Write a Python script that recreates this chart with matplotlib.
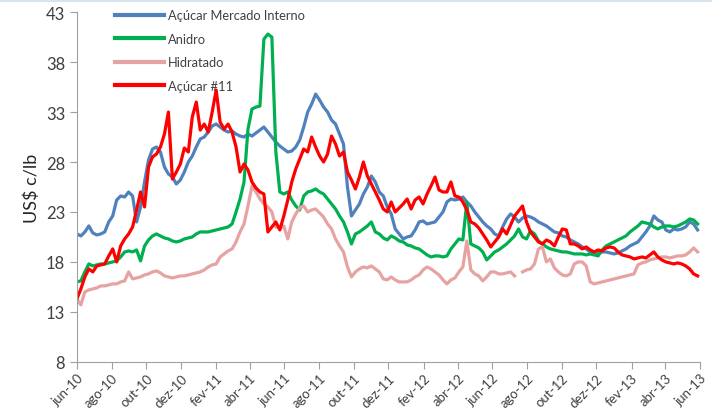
import pandas as pd
import numpy as np
import matplotlib
matplotlib.use('Agg')
import matplotlib.pyplot as plt

# weekly dates, jun-10 to jun-13
dates = pd.date_range('2010-06-01', periods=157, freq='7D')

acucar_mi = [
    20.8, 20.6, 21.0, 21.6, 20.9, 20.7, 20.8, 21.0, 22.0, 22.6,
    24.2, 24.6, 24.5, 25.0, 24.6, 22.0, 23.5, 26.0, 28.2, 29.3,
    29.5, 29.0, 27.5, 26.8, 26.5, 25.8, 26.2, 27.0, 28.0, 28.6,
    29.5, 30.3, 30.5, 31.0, 31.6, 31.8, 31.5, 31.2, 31.0, 31.1,
    30.8, 30.6, 30.5, 30.8, 30.6, 30.9, 31.2, 31.5, 31.0, 30.5,
    30.0, 29.6, 29.3, 29.0, 29.1, 29.5, 30.2, 31.5, 33.0, 33.8,
    34.8, 34.2, 33.5, 33.0, 32.2, 31.8, 30.8, 29.8, 25.5, 22.6,
    23.2, 23.8, 24.8, 25.5, 26.6, 26.0, 25.0, 24.6, 23.5, 22.8,
    21.3, 20.8, 20.3, 20.5, 20.6, 21.2, 22.0, 22.1, 21.8, 21.9,
    22.0, 22.5, 23.0, 24.0, 24.3, 24.2, 24.3, 24.5, 24.0, 23.6,
    23.0, 22.5, 22.0, 21.6, 21.3, 20.8, 20.6, 21.5, 22.3, 22.8,
    22.5, 22.0, 22.4, 22.6, 22.5, 22.3, 22.0, 21.8, 21.6, 21.3,
    21.0, 20.9, 20.6, 20.5, 20.2, 20.0, 19.8, 19.5, 19.3, 19.0,
    18.8, 18.9, 19.0, 19.0, 18.9, 18.8, 18.9, 19.1, 19.3, 19.6,
    19.8, 20.0, 20.5, 21.0, 21.6, 22.6, 22.2, 22.0, 21.2, 21.0,
    21.3, 21.2, 21.3, 21.5, 22.0, 21.8, 21.2]

anidro = [
    16.0, 16.1, 17.0, 17.8, 17.6, 17.7, 17.8, 17.8, 17.9, 18.0,
    18.1, 18.5, 19.0, 19.1, 19.0, 19.2, 18.1, 19.6, 20.2, 20.6,
    20.8, 20.6, 20.4, 20.3, 20.1, 20.0, 20.1, 20.3, 20.4, 20.5,
    20.8, 21.0, 21.0, 21.0, 21.1, 21.2, 21.3, 21.4, 21.5, 21.8,
    23.0, 24.3, 26.0, 31.3, 33.3, 33.5, 33.6, 40.3, 40.8, 40.5,
    29.0, 25.0, 24.8, 25.0, 24.2, 23.6, 23.2, 24.6, 25.0, 25.1,
    25.3, 25.0, 24.8, 24.3, 23.8, 23.3, 22.6, 22.0, 21.0, 19.8,
    20.8, 21.0, 21.3, 21.6, 22.0, 21.0, 20.8, 20.4, 20.2, 20.6,
    20.4, 20.1, 20.0, 19.7, 19.6, 19.4, 19.3, 19.0, 18.7, 18.5,
    18.6, 18.6, 18.5, 18.6, 19.3, 19.8, 20.3, 20.2, 24.0, 19.8,
    19.6, 19.4, 19.0, 18.2, 18.6, 19.0, 19.2, 19.5, 19.8, 20.2,
    20.6, 21.3, 20.5, 20.3, 21.1, 20.8, 20.1, 19.8, 19.5, 19.3,
    19.2, 19.1, 19.0, 19.0, 18.9, 18.8, 18.8, 18.8, 18.7, 18.8,
    18.7, 18.6, 19.2, 19.6, 19.8, 20.0, 20.2, 20.4, 20.6, 21.0,
    21.3, 21.6, 22.0, 21.9, 21.8, 21.5, 21.3, 21.5, 21.6, 21.6,
    21.5, 21.6, 21.8, 22.0, 22.3, 22.2, 21.8]

hidratado = [
    14.3, 13.7, 15.0, 15.2, 15.3, 15.4, 15.6, 15.6, 15.7, 15.8,
    15.8, 16.0, 16.1, 17.0, 16.3, 16.4, 16.5, 16.7, 16.8, 17.0,
    17.1, 16.9, 16.6, 16.5, 16.4, 16.5, 16.6, 16.6, 16.7, 16.8,
    16.9, 17.0, 17.2, 17.5, 17.7, 17.8, 18.5, 18.8, 19.1, 19.3,
    20.0, 21.0, 21.8, 23.6, 25.6, 25.0, 24.3, 23.8, 23.5, 23.0,
    21.5, 21.4, 21.6, 20.3, 22.0, 22.8, 23.4, 23.6, 23.0, 23.2,
    23.3, 22.9, 22.5, 21.8, 21.3, 20.3, 19.6, 19.0, 17.5, 16.5,
    17.0, 17.3, 17.5, 17.4, 17.6, 17.3, 17.0, 16.3, 16.2, 16.5,
    16.2, 16.0, 16.0, 16.0, 16.2, 16.5, 16.7, 17.2, 17.5, 17.3,
    17.0, 16.7, 16.2, 15.8, 16.2, 16.4, 17.0, 17.5, 20.1, 17.2,
    16.8, 16.6, 16.1, 16.5, 17.0, 17.0, 16.8, 16.8, 16.9, 17.0,
    16.6, np.nan, 17.0, 17.2, 17.3, 17.8, 19.3, 19.5, 18.0, 18.3,
    17.4, 17.0, 16.7, 16.6, 16.8, 17.8, 18.0, 18.0, 17.6, 16.0,
    15.8, 15.9, 16.0, 16.1, 16.2, 16.3, 16.4, 16.5, 16.6, 16.7,
    16.8, 17.7, 17.9, 18.0, 18.2, 18.3, 18.4, 18.5, 18.5, 18.4,
    18.5, 18.6, 18.6, 18.7, 19.0, 19.4, 19.0]

acucar_11 = [
    14.3, 15.3, 16.5, 17.3, 17.0, 17.6, 17.7, 17.8, 18.6, 19.3,
    18.0, 19.6, 20.3, 20.8, 21.5, 23.2, 25.0, 23.5, 27.5, 28.5,
    28.8, 29.5, 30.8, 33.0, 26.3, 27.0, 27.8, 29.4, 29.0, 32.5,
    34.0, 31.2, 31.8, 31.0, 33.0, 35.2, 32.0, 31.3, 31.8, 31.0,
    29.5, 27.0, 27.8, 27.2, 26.0, 25.4, 25.0, 24.8, 21.0, 21.5,
    22.0, 21.2, 22.6, 24.2, 26.0, 27.3, 28.3, 29.3, 29.0, 30.5,
    29.5, 28.6, 28.0, 28.8, 30.6, 29.8, 28.6, 29.0, 27.0, 26.2,
    25.3, 26.5, 28.0, 26.6, 25.8, 25.0, 24.2, 23.3, 23.0, 24.0,
    23.0, 23.4, 23.8, 24.3, 23.3, 24.2, 24.5, 23.8, 24.8, 25.6,
    26.5, 25.2, 25.0, 25.0, 26.0, 24.6, 24.5, 24.0, 23.2, 22.0,
    21.8, 21.4, 20.8, 20.2, 19.5, 20.0, 20.5, 21.3, 20.8, 21.7,
    22.6, 23.1, 23.6, 22.0, 21.0, 20.5, 20.0, 19.8, 20.2, 20.0,
    19.6, 20.5, 21.3, 21.2, 19.8, 19.8, 19.6, 19.3, 19.5, 19.2,
    19.0, 19.2, 19.1, 19.4, 19.5, 19.4, 19.0, 18.7, 18.6, 18.5,
    18.3, 18.4, 18.5, 18.4, 18.7, 19.0, 18.5, 18.2, 18.0, 17.9,
    17.8, 17.9, 17.8, 17.6, 17.3, 16.8, 16.6]

tick_dates = pd.date_range('2010-06-01', '2013-06-01', freq='2MS')
tick_labels = ['jun-10', 'ago-10', 'out-10', 'dez-10', 'fev-11', 'abr-11', 'jun-11',
               'ago-11', 'out-11', 'dez-11', 'fev-12', 'abr-12', 'jun-12', 'ago-12',
               'out-12', 'dez-12', 'fev-13', 'abr-13', 'jun-13']

plt.rcParams['font.family'] = ['Lato', 'DejaVu Sans']

fig = plt.figure(figsize=(7.12, 4.10), dpi=100)
ax = fig.add_axes([0.108, 0.115, 0.875, 0.853])

# thin light-blue band at the top of the image
fig.add_artist(plt.Rectangle((0, 0.992), 1, 0.008, transform=fig.transFigure,
                             color='#d5e6f2', lw=0))

ax.plot(dates, acucar_mi, color='#4f81bd', lw=2.3, label='Açúcar Mercado Interno')
ax.plot(dates, anidro, color='#00b050', lw=2.3, label='Anidro')
ax.plot(dates, hidratado, color='#e6a3a1', lw=2.3, label='Hidratado')
ax.plot(dates, acucar_11, color='#ff0000', lw=2.3, label='Açúcar #11')

ax.set_xlim(pd.Timestamp('2010-06-01'), pd.Timestamp('2013-06-01'))
ax.set_ylim(8, 43)
ax.set_yticks(range(8, 44, 5))
ax.set_xticks(tick_dates)
ax.set_xticklabels(tick_labels, rotation=45, ha='right', rotation_mode='anchor',
                   fontsize=9.5, color='#404040')
ax.tick_params(axis='y', labelsize=12, colors='#404040', length=5, color='#a0a0a0')
ax.tick_params(axis='x', length=5, pad=2, color='#a0a0a0')
ax.set_ylabel('US$ c/lb', fontsize=13, color='#262626')

for side in ['top', 'right']:
    ax.spines[side].set_visible(False)
for side in ['left', 'bottom']:
    ax.spines[side].set_color('#a0a0a0')

leg = ax.legend(loc='upper left', bbox_to_anchor=(0.042, 1.042), frameon=False,
                fontsize=9.3, handlelength=3.8, handletextpad=0.3, labelspacing=0.9,
                labelcolor='#404040')
for line in leg.get_lines():
    line.set_linewidth(3)

fig.savefig('out.png', dpi=100)
